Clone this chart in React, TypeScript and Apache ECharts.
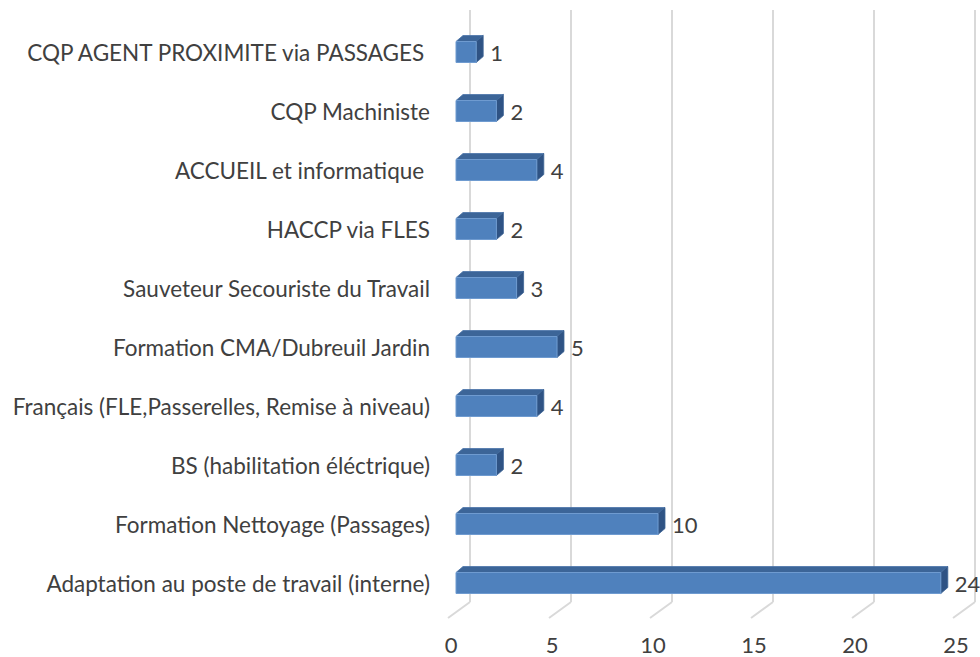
import React, { useEffect, useRef } from "react";
import * as echarts from "echarts";

const categories = [
  "Adaptation au poste de travail (interne)",
  "Formation Nettoyage (Passages)",
  "BS (habilitation éléctrique)",
  "Français (FLE,Passerelles, Remise à niveau)",
  "Formation CMA/Dubreuil Jardin",
  "Sauveteur Secouriste du Travail",
  "HACCP via FLES",
  "ACCUEIL et informatique ",
  "CQP Machiniste",
  "CQP AGENT PROXIMITE via PASSAGES ",
];
const values = [24, 10, 2, 4, 5, 3, 2, 4, 2, 1];
const ticks = [0, 5, 10, 15, 20, 25];

const FONT = "Lato, 'Liberation Sans', Arial, sans-serif";
const TEXT = "#404040";

export default function App() {
  const ref = useRef<HTMLDivElement>(null);
  useEffect(() => {
    document.body.style.margin = "0";
    const chart = echarts.init(ref.current!, null, { renderer: "svg" });
    const option: any = {
      animation: false,
      backgroundColor: "#ffffff",
      grid: { left: 451, right: 24, top: 22.5, bottom: 44.5 },
      xAxis: {
        type: "value",
        min: 0,
        max: 25,
        interval: 5,
        axisLine: { show: false },
        axisTick: { show: false },
        splitLine: { show: false },
        axisLabel: {
          margin: 22,
          fontSize: 22,
          lineHeight: 20,
          color: TEXT,
          fontFamily: FONT,
        },
      },
      yAxis: {
        type: "category",
        data: categories,
        axisLine: { show: false },
        axisTick: { show: false },
        axisLabel: {
          margin: 21,
          fontSize: 22.5,
          color: TEXT,
          fontFamily: FONT,
          padding: [8, 0, 0, 0],
        },
      },
      series: [
        {
          type: "custom",
          z: 1,
          silent: true,
          data: ticks.map((t) => [t, 0]),
          encode: { x: 0, y: 1 },
          renderItem: (params: any, api: any) => {
            const p = api.coord([api.value(0), 0]);
            const cs = params.coordSys;
            const x = p[0];
            const top = cs.y - 12.5;
            const bot = cs.y + cs.height - 10.5;
            const style = { stroke: "#d9d9d9", lineWidth: 2 };
            return {
              type: "group",
              children: [
                { type: "line", shape: { x1: x + 19, y1: top, x2: x + 19, y2: bot }, style },
                { type: "line", shape: { x1: x + 19, y1: bot, x2: x - 3, y2: bot + 16 }, style },
              ],
            };
          },
        },
        {
          type: "custom",
          z: 2,
          data: values.map((v, i) => [v, i]),
          encode: { x: 0, y: 1 },
          renderItem: (params: any, api: any) => {
            const v = api.value(0);
            const i = api.value(1);
            const s = api.coord([0, i]);
            const e = api.coord([v, i]);
            const yc = s[1];
            const h = 21;
            const x0 = s[0] + 5;
            const x1 = e[0] + 5;
            const yt = yc - h / 2;
            const yb = yc + h / 2;
            const dx = 7;
            const dy = 6;
            return {
              type: "group",
              children: [
                {
                  type: "polygon",
                  shape: { points: [[x0, yt], [x1, yt], [x1 + dx, yt - dy], [x0 + dx, yt - dy]] },
                  style: { fill: "#3c6598", stroke: "#4a74a8", lineWidth: 0.8 },
                },
                {
                  type: "polygon",
                  shape: { points: [[x1, yt], [x1 + dx, yt - dy], [x1 + dx, yb - dy], [x1, yb]] },
                  style: { fill: "#2f5384", stroke: "#3d6596", lineWidth: 0.8 },
                },
                {
                  type: "rect",
                  shape: { x: x0, y: yt, width: x1 - x0, height: h },
                  style: { fill: "#4f81bd", stroke: "#6f9bd0", lineWidth: 1 },
                },
                {
                  type: "text",
                  style: {
                    x: x1 + dx + 7,
                    y: yc,
                    text: String(v),
                    fill: TEXT,
                    font: `22px ${FONT}`,
                    align: "left",
                    verticalAlign: "middle",
                  },
                },
              ],
            };
          },
        },
      ],
    };
    chart.setOption(option);
    return () => chart.dispose();
  }, []);
  return <div ref={ref} style={{ width: 980, height: 657 }} />;
}
